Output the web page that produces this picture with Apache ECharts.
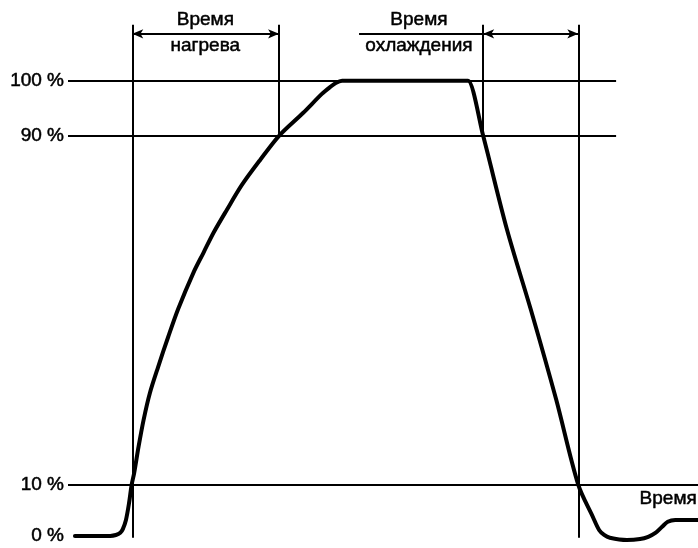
<!DOCTYPE html>
<html>
<head>
<meta charset="UTF-8">
<title>Время нагрева и охлаждения</title>
<script src="https://cdn.jsdelivr.net/npm/echarts@6/dist/echarts.min.js"></script>
<style>
    html, body {margin: 0; padding: 0; background: #fff;}
    #chart {width: 698px; height: 548px;}
</style>
</head>
<body>
<div id="chart"></div>
<script type="text/javascript">
    // время (условные единицы, 0..100)
    var curveTime = [1.1, 6.7, 7.6, 8.3, 8.7, 9.2, 9.7,
        10.1, 10.5, 11.2, 12.0, 13.0, 14.3, 15.9, 17.5, 19.9, 21.5, 23.1, 25.2, 27.6, 30.5, 33.5,
        37.3, 40.3, 41.6, 42.5, 43.5, 63.2, 63.5,
        65.9, 69.7, 73.7, 77.5, 81.0, 83.3, 84.3, 85.1, 86.0, 88.7, 90.8, 92.1, 93.3, 94.3, 95.2, 96.4, 100];
    // положение кривой на схеме по вертикали
    var curveLevel = [0, 0, 0.2, 0.7, 1.5, 3.5, 7.3,
        11.2, 13.8, 19.6, 25.5, 31.4, 37.1, 43.7, 49.9, 57.8, 62.2, 66.6, 71.6, 77.1, 82.6, 87.9,
        92.9, 97.1, 98.6, 99.5, 100, 100, 100,
        87.9, 67.2, 48.6, 29.9, 11.2, 4.2, 1.3, 0.2, -0.4, -0.9, -0.7, -0.2, 0.7, 2.0, 3.1, 3.5, 3.5];
    // уровни на оси Y и их подписи
    var levelValues = [0, 11.2, 87.9, 100];
    var levelLabels = ['0 %', '10 %', '90 %', '100 %'];
    // выносные линии: начало/конец нагрева и охлаждения
    var heatStart = 10.2, heatEnd = 33.5, coolStart = 65.9, coolEnd = 81.0;
    var lineTop = 112.3, lineBottom = -0.4, arrowLevel = 110.3, levelLineEnd = 87;

    var font = "'Liberation Sans', Arial, sans-serif";
    var chart = echarts.init(document.getElementById('chart'));

    var curveData = [];
    for (var i = 0; i < curveTime.length; i++) {
        curveData.push([curveTime[i], curveLevel[i]]);
    }

    function seg(x1, y1, x2, y2) {
        return [{coord: [x1, y1]}, {coord: [x2, y2]}];
    }
    function arrowSeg(x1, x2, y) {
        return [{coord: [x1, y], symbol: 'arrow'}, {coord: [x2, y], symbol: 'arrow'}];
    }
    function textPoint(x, y, txt) {
        return {
            coord: [x, y], symbol: 'circle', symbolSize: 0,
            label: {
                show: true, position: 'inside', formatter: txt, color: '#000', fontSize: 19, fontFamily: font,
                textBorderColor: '#000', textBorderWidth: 0.5
            }
        };
    }

    var option = {
        animation: false,
        backgroundColor: '#fff',
        grid: {left: 68, right: 0, top: 17, bottom: 3},
        xAxis: {
            type: 'value', min: 0, max: 100,
            axisLine: {show: false}, axisTick: {show: false}, axisLabel: {show: false}, splitLine: {show: false}
        },
        yAxis: {
            type: 'value', min: -2, max: 114,
            axisLine: {show: false}, axisTick: {show: false}, splitLine: {show: false},
            axisLabel: {
                customValues: levelValues,
                margin: 4,
                color: '#000',
                fontSize: 19,
                fontFamily: font,
                textBorderColor: '#000',
                textBorderWidth: 0.5,
                formatter: function (v) {
                    var idx = levelValues.indexOf(v);
                    return idx >= 0 ? levelLabels[idx] : '';
                }
            }
        },
        graphic: [{
            type: 'text', right: 1, top: 489,
            style: {text: 'Время', fill: '#000', font: '19px ' + font, stroke: '#000', lineWidth: 0.5}
        }],
        series: [{
            type: 'line',
            data: curveData,
            showSymbol: false,
            smooth: 0.3,
            clip: false,
            z: 3,
            lineStyle: {color: '#000', width: 4, join: 'round', cap: 'round'},
            markLine: {
                silent: true,
                symbol: 'none',
                symbolSize: [7, 11],
                label: {show: false},
                lineStyle: {color: '#000', width: 2, type: 'solid'},
                data: [
                    seg(0, levelValues[1], 100, levelValues[1]),
                    seg(0, levelValues[2], levelLineEnd, levelValues[2]),
                    seg(0, levelValues[3], levelLineEnd, levelValues[3]),
                    seg(heatStart, lineBottom, heatStart, lineTop),
                    seg(heatEnd, levelValues[2], heatEnd, lineTop),
                    seg(coolStart, levelValues[2], coolStart, lineTop),
                    seg(coolEnd, lineBottom, coolEnd, lineTop),
                    seg(46.2, arrowLevel, coolStart, arrowLevel),
                    arrowSeg(heatStart, heatEnd, arrowLevel),
                    arrowSeg(coolStart, coolEnd, arrowLevel)
                ]
            },
            markPoint: {
                silent: true,
                data: [
                    textPoint(21.8, 113.4, 'Время'),
                    textPoint(21.8, 107.6, 'нагрева'),
                    textPoint(55.7, 113.4, 'Время'),
                    textPoint(55.7, 107.6, 'охлаждения')
                ]
            }
        }]
    };
    chart.setOption(option);
</script>
</body>
</html>
